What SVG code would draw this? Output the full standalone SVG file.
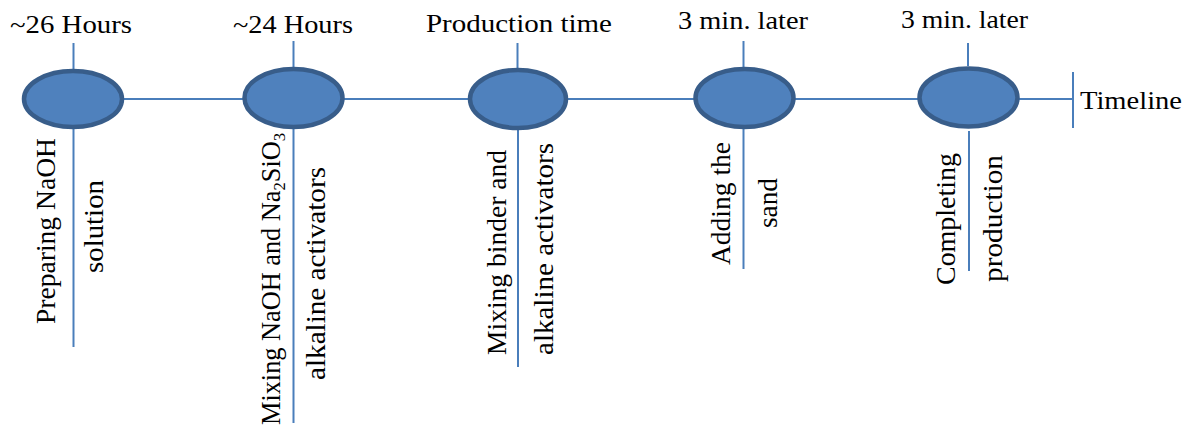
<svg xmlns="http://www.w3.org/2000/svg" width="1189" height="428" viewBox="0 0 1189 428">
<style>
.bg{fill:#ffffff}
.ln{stroke:#4a7ebb;stroke-width:2;fill:none}
.node{fill:#4f81bd;stroke:#385d8a;stroke-width:4.5}
.t{font-family:"Liberation Serif","Times New Roman",serif;font-size:26px;fill:#000}
.r{font-family:"Liberation Serif","Times New Roman",serif;font-size:27px;fill:#000}
</style>
<rect class="bg" x="0" y="0" width="1189" height="428"/>
<g id="connectors">
<line class="ln" x1="123" y1="99" x2="1073" y2="99"/>
<line class="ln" x1="1073" y1="72" x2="1073" y2="128"/>
<line class="ln" x1="73.5" y1="43" x2="73.5" y2="70"/>
<line class="ln" x1="73.5" y1="128" x2="73.5" y2="347"/>
<line class="ln" x1="293.5" y1="41" x2="293.5" y2="68"/>
<line class="ln" x1="293.5" y1="129" x2="293.5" y2="423"/>
<line class="ln" x1="517.5" y1="43" x2="517.5" y2="69"/>
<line class="ln" x1="518" y1="130" x2="518" y2="367"/>
<line class="ln" x1="743.5" y1="41" x2="743.5" y2="67"/>
<line class="ln" x1="743.5" y1="129" x2="743.5" y2="269"/>
<line class="ln" x1="968" y1="43" x2="968" y2="66"/>
<line class="ln" x1="969" y1="131" x2="969" y2="271"/>
</g>
<g id="node1">
<ellipse class="node" cx="73" cy="99" rx="49" ry="28"/>
<text class="t" x="10" y="33" textLength="122" lengthAdjust="spacingAndGlyphs">~26 Hours</text>
<text class="r" transform="translate(55,324) rotate(-90)" x="0" y="0" textLength="186" lengthAdjust="spacingAndGlyphs">Preparing NaOH</text>
<text class="r" transform="translate(103,273) rotate(-90)" x="0" y="0" textLength="93" lengthAdjust="spacingAndGlyphs">solution</text>
</g>
<g id="node2">
<ellipse class="node" cx="293.5" cy="98" rx="49" ry="29"/>
<text class="t" x="233" y="33" textLength="120" lengthAdjust="spacingAndGlyphs">~24 Hours</text>
<text class="r" transform="translate(280,425) rotate(-90)" x="0" y="0" textLength="292" lengthAdjust="spacingAndGlyphs">Mixing NaOH and Na<tspan font-size="17" dy="5">2</tspan><tspan dy="-5">SiO</tspan><tspan font-size="17" dy="5">3</tspan></text>
<text class="r" transform="translate(325,380) rotate(-90)" x="0" y="0" textLength="213" lengthAdjust="spacingAndGlyphs">alkaline activators</text>
</g>
<g id="node3">
<ellipse class="node" cx="518" cy="99" rx="48" ry="29"/>
<text class="t" x="426" y="32" textLength="186" lengthAdjust="spacingAndGlyphs">Production time</text>
<text class="r" transform="translate(506,355) rotate(-90)" x="0" y="0" textLength="205" lengthAdjust="spacingAndGlyphs">Mixing binder and</text>
<text class="r" transform="translate(553,355) rotate(-90)" x="0" y="0" textLength="212" lengthAdjust="spacingAndGlyphs">alkaline activators</text>
</g>
<g id="node4">
<ellipse class="node" cx="744.5" cy="98" rx="49" ry="29"/>
<text class="t" x="678" y="29" textLength="130" lengthAdjust="spacingAndGlyphs">3 min. later</text>
<text class="r" transform="translate(730,265) rotate(-90)" x="0" y="0" textLength="123" lengthAdjust="spacingAndGlyphs">Adding the</text>
<text class="r" transform="translate(777,228) rotate(-90)" x="0" y="0" textLength="50" lengthAdjust="spacingAndGlyphs">sand</text>
</g>
<g id="node5">
<ellipse class="node" cx="968.5" cy="97.5" rx="49" ry="29"/>
<text class="t" x="901" y="28" textLength="127" lengthAdjust="spacingAndGlyphs">3 min. later</text>
<text class="r" transform="translate(955,285) rotate(-90)" x="0" y="0" textLength="132" lengthAdjust="spacingAndGlyphs">Completing</text>
<text class="r" transform="translate(1002,282) rotate(-90)" x="0" y="0" textLength="127" lengthAdjust="spacingAndGlyphs">production</text>
</g>
<g id="timeline-label">
<text class="t" x="1080" y="109" textLength="102" lengthAdjust="spacingAndGlyphs">Timeline</text>
</g>
</svg>
